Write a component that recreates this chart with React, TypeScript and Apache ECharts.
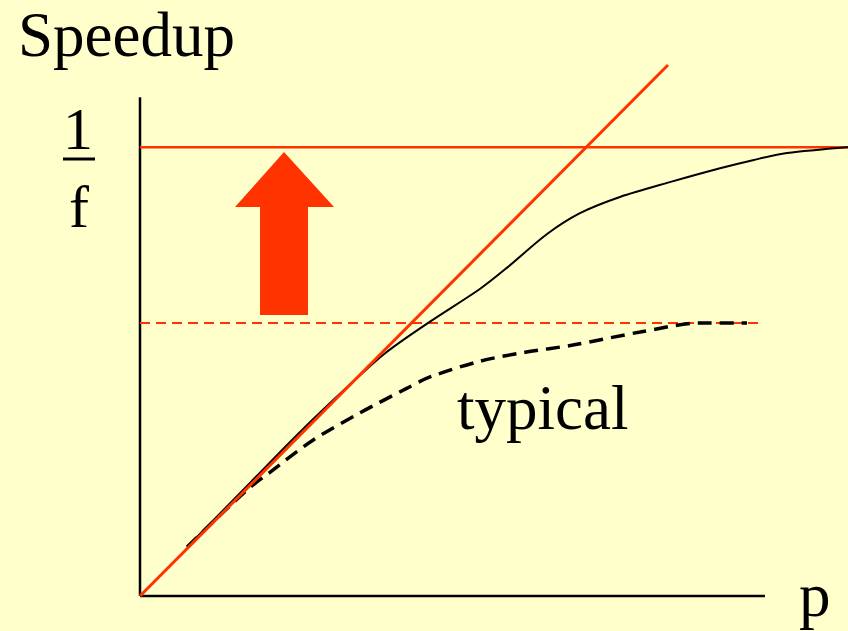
import React, { useEffect, useRef } from "react";
import * as echarts from "echarts";

// Data space: x = processors p, y = speedup; 1/f level = 10
const X_MAX = 15.77;
const Y_MAX = 11.83;
const INV_F = 10;
const TYPICAL_LEVEL = 6.08;

const idealLine: [number, number][] = [[0, 0], [11.76, 11.83]];
const limitLine: [number, number][] = [[0, INV_F], [X_MAX, INV_F]];
const typicalLimit: [number, number][] = [[0, TYPICAL_LEVEL], [13.85, TYPICAL_LEVEL]];
const axisXLine: [number, number][] = [[0, 0], [13.92, 0]];
const axisYLine: [number, number][] = [[0, 0], [0, 11.11]];

const bestCurve: [number, number][] = [
  [1.05, 1.09], [2.45, 2.52], [3.56, 3.65], [4.61, 4.65], [5.46, 5.41],
  [6.41, 6.08], [7.57, 6.84], [8.17, 7.31], [9.06, 8.06], [9.8, 8.53],
  [10.69, 8.89], [11.8, 9.22], [12.92, 9.53], [13.65, 9.71], [14.41, 9.87],
  [15.77, 10.0],
];

const typicalCurve: [number, number][] = [
  [1.05, 1.09], [2.38, 2.36], [2.9, 2.76], [3.85, 3.47], [4.9, 4.08],
  [5.95, 4.63], [6.46, 4.88], [7.57, 5.23], [8.58, 5.43], [9.64, 5.59],
  [11.14, 5.88], [12.47, 6.08], [13.52, 6.08],
];

const RED = "#FF3300";
const BG = "#FFFFCC";
const FONT = "'Liberation Serif', 'DejaVu Serif', serif";

export default function App() {
  const ref = useRef<HTMLDivElement>(null);
  useEffect(() => {
    if (!ref.current) return;
    const chart = echarts.init(ref.current, undefined, { renderer: "svg" });
    const lineBase = { type: "line", showSymbol: false, symbol: "none", silent: true } as any;
    const txt = (text: string, x: number, y: number, size: number) => ({
      type: "text",
      x,
      y,
      style: { text, font: `${size}px ${FONT}`, fill: "#000", verticalAlign: "top", align: "left" },
    });
    chart.setOption({
      animation: false,
      backgroundColor: BG,
      grid: { left: 140, top: 65, width: 708, height: 531 },
      xAxis: { type: "value", min: 0, max: X_MAX, show: false },
      yAxis: { type: "value", min: 0, max: Y_MAX, show: false },
      series: [
        { ...lineBase, name: "axisY", data: axisYLine, lineStyle: { color: "#000", width: 2.5 }, clip: false },
        { ...lineBase, name: "axisX", data: axisXLine, lineStyle: { color: "#000", width: 2.5 }, clip: false },
        { ...lineBase, name: "limit", data: limitLine, lineStyle: { color: RED, width: 2.5 } },
        { ...lineBase, name: "typicalLimit", data: typicalLimit, lineStyle: { color: RED, width: 2, type: [10, 6] } },
        { ...lineBase, name: "best", data: bestCurve, smooth: 0.3, lineStyle: { color: "#000", width: 2 } },
        { ...lineBase, name: "typical", data: typicalCurve, smooth: 0.3, lineStyle: { color: "#000", width: 3.5, type: [14, 8] } },
        { ...lineBase, name: "ideal", data: idealLine, lineStyle: { color: RED, width: 3 } },
      ],
      graphic: [
        {
          type: "polygon",
          shape: {
            points: [
              [284, 152], [334, 207], [308, 207], [308, 315],
              [260, 315], [260, 207], [235, 207],
            ],
          },
          style: { fill: RED },
        },
        txt("Speedup", 18, 3, 63),
        txt("1", 63, 99, 60),
        { type: "line", shape: { x1: 63, y1: 159, x2: 95, y2: 159 }, style: { stroke: "#000", lineWidth: 3 } },
        txt("f", 69, 177, 60),
        txt("typical", 457, 376, 63),
        txt("p", 799, 563, 63),
      ],
    });
    return () => chart.dispose();
  }, []);
  return (
    <div
      ref={ref}
      style={{ position: "fixed", left: 0, top: 0, width: 848, height: 631, background: BG }}
    />
  );
}
